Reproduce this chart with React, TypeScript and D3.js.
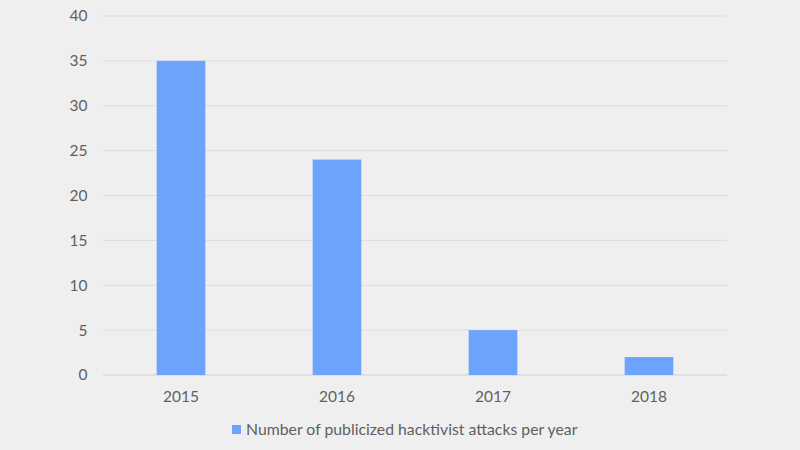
import React from "react";
import * as d3 from "d3";

const categories = ["2015", "2016", "2017", "2018"];
const values = [35, 24, 5, 2];
const yTicks = [0, 5, 10, 15, 20, 25, 30, 35, 40];
const seriesName = "Number of publicized hacktivist attacks per year";

export default function App() {
  const W = 800, H = 450;
  const left = 103, right = 727, top = 16, bottom = 375;
  const x = d3.scaleBand<string>().domain(categories).range([left, right]).padding(0);
  const y = d3.scaleLinear().domain([0, 40]).range([bottom, top]);
  const barW = x.bandwidth() * 0.312;
  const font = "Lato, 'Open Sans', sans-serif";
  const textColor = "#5f5f5f";
  return (
    <svg width={W} height={H} style={{ position: "absolute", left: 0, top: 0, background: "#efefef" }}>
      <rect x={0} y={0} width={W} height={H} fill="#efefef" />
      {yTicks.map((t) => (
        <g key={t}>
          <line x1={left} x2={right} y1={y(t)} y2={y(t)} stroke={t === 0 ? "#d0d0d6" : "#dcdcdc"} strokeWidth={1} />
          <text x={87.5} y={y(t)} dy="0.35em" textAnchor="end" fontFamily={font} fontSize={15.5} fill={textColor}>{t}</text>
        </g>
      ))}
      {categories.map((c, i) => {
        const cx = (x(c) as number) + x.bandwidth() / 2;
        return (
          <g key={c}>
            <rect x={cx - barW / 2} y={y(values[i])} width={barW} height={y(0) - y(values[i])} fill="#6ca3fd" />
            <text x={cx} y={401.5} textAnchor="middle" fontFamily={font} fontSize={15.5} fill={textColor}>{c}</text>
          </g>
        );
      })}
      <rect x={232} y={425} width={9} height={9} fill="#6ca3fd" />
      <text x={246} y={434.5} fontFamily={font} fontSize={15.8} fill={textColor}>{seriesName}</text>
    </svg>
  );
}
